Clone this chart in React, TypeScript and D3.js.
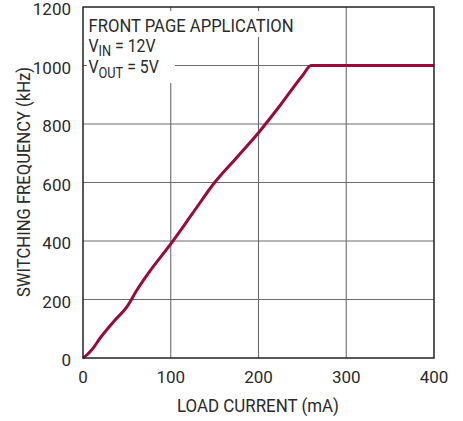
import { useEffect, useRef } from 'react'
import * as d3 from 'd3'

const loadCurrent = [0, 5, 10, 20, 35, 50, 62, 75, 100, 125, 150, 175, 200, 225, 250, 260, 300, 350, 400]
const switchingFreq = [0, 12, 28, 70, 125, 175, 235, 292, 390, 495, 600, 685, 770, 865, 965, 1000, 1000, 1000, 1000]
const xTicks = [0, 100, 200, 300, 400]
const yTicks = [0, 200, 400, 600, 800, 1000, 1200]

const FONT = 'Roboto, "Liberation Sans Narrow", "DejaVu Sans Condensed", sans-serif'
const INK = '#2a2a2a'

export default function App() {
  const svgRef = useRef<SVGSVGElement>(null)

  useEffect(() => {
    if (!svgRef.current) return
    const W = 463
    const H = 421
    const margin = { top: 7, right: 29, bottom: 63, left: 83 }
    const width = W - margin.left - margin.right
    const height = H - margin.top - margin.bottom

    d3.select(svgRef.current).selectAll('*').remove()

    const root = d3.select(svgRef.current)
      .attr('width', W)
      .attr('height', H)
      .style('font-family', FONT)

    const svg = root.append('g')
      .attr('transform', `translate(${margin.left},${margin.top})`)

    const x = d3.scaleLinear().domain([0, 400]).range([0, width])
    const y = d3.scaleLinear().domain([0, 1200]).range([height, 0])

    // Grid
    svg.append('g')
      .selectAll('line')
      .data(xTicks.slice(1, -1))
      .join('line')
      .attr('x1', d => x(d)).attr('x2', d => x(d))
      .attr('y1', 0).attr('y2', height)
      .attr('stroke', '#6b6b6b')
      .attr('stroke-width', 1.1)

    svg.append('g')
      .selectAll('line')
      .data(yTicks.slice(1, -1))
      .join('line')
      .attr('x1', 0).attr('x2', width)
      .attr('y1', d => y(d)).attr('y2', d => y(d))
      .attr('stroke', '#6b6b6b')
      .attr('stroke-width', 1.1)

    // Annotation backgrounds
    svg.append('rect')
      .attr('x', 4).attr('y', 4)
      .attr('width', 180).attr('height', 26)
      .attr('fill', 'white')
    svg.append('rect')
      .attr('x', 4).attr('y', 30)
      .attr('width', 88).attr('height', 46)
      .attr('fill', 'white')

    // Curve
    const data = loadCurrent.map((c, i) => ({ c, f: switchingFreq[i] }))
    const line = d3.line<{ c: number; f: number }>()
      .x(d => x(d.c))
      .y(d => y(d.f))
      .curve(d3.curveMonotoneX)

    svg.append('path')
      .datum(data)
      .attr('d', line)
      .attr('fill', 'none')
      .attr('stroke', '#9b0a3a')
      .attr('stroke-width', 3)
      .attr('stroke-linejoin', 'round')

    // Frame
    svg.append('rect')
      .attr('width', width)
      .attr('height', height)
      .attr('fill', 'none')
      .attr('stroke', '#222')
      .attr('stroke-width', 1.5)

    // Tick labels
    svg.append('g')
      .selectAll('text')
      .data(xTicks)
      .join('text')
      .attr('x', d => x(d))
      .attr('y', height + 25)
      .attr('text-anchor', 'middle')
      .attr('font-size', 17)
      .attr('fill', INK)
      .text(d => d)

    svg.append('g')
      .selectAll('text')
      .data(yTicks)
      .join('text')
      .attr('x', -12)
      .attr('y', d => y(d) + 8)
      .attr('text-anchor', 'end')
      .attr('font-size', 17)
      .attr('fill', INK)
      .text(d => d)

    // Axis titles
    svg.append('text')
      .attr('x', 94)
      .attr('y', height + 54)
      .attr('font-size', 18)
      .attr('fill', INK)
      .attr('textLength', 162)
      .attr('lengthAdjust', 'spacingAndGlyphs')
      .text('LOAD CURRENT (mA)')

    svg.append('text')
      .attr('transform', 'rotate(-90)')
      .attr('x', -290)
      .attr('y', -53)
      .attr('font-size', 18)
      .attr('fill', INK)
      .attr('textLength', 230)
      .attr('lengthAdjust', 'spacingAndGlyphs')
      .text('SWITCHING FREQUENCY (kHz)')

    // Annotation text
    const ann = svg.append('g').attr('font-size', 18).attr('fill', INK)
    ann.append('text')
      .attr('x', 5.5).attr('y', 24.5)
      .attr('textLength', 205)
      .attr('lengthAdjust', 'spacingAndGlyphs')
      .text('FRONT PAGE APPLICATION')

    const sub = (g: d3.Selection<SVGGElement, unknown, null, undefined>, yy: number, s: string, rest: string) => {
      const t = g.append('text').attr('x', 5.5).attr('y', yy).attr('transform', `translate(5.5,0) scale(0.88,1) translate(-5.5,0)`)
      t.append('tspan').text('V')
      t.append('tspan').attr('dy', 4.5).attr('font-size', 14.5).text(s)
      t.append('tspan').attr('dy', -4.5).text(rest)
    }
    sub(ann, 45, 'IN', ' = 12V')
    sub(ann, 66.5, 'OUT', ' = 5V')
  }, [])

  return (
    <svg ref={svgRef} style={{ position: 'absolute', left: 0, top: 0, background: 'white' }}></svg>
  )
}
